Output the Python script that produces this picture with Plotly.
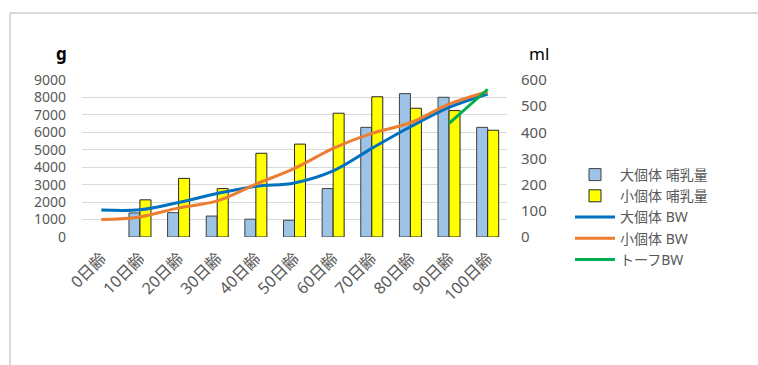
import plotly.graph_objects as go

# Age categories (days)
ages = ["0日齢", "10日齢", "20日齢", "30日齢", "40日齢", "50日齢",
        "60日齢", "70日齢", "80日齢", "90日齢", "100日齢"]

# Milk intake (ml) - right axis
milk_large = [None, 92, 93, 80, 68, 64, 185, 419, 548, 534, 419]
milk_small = [None, 142, 224, 185, 320, 355, 473, 536, 492, 483, 408]

# Body weight (g) - left axis
bw_large = [1550, 1560, 1980, 2490, 2910, 3100, 3790, 5080, 6320, 7430, 8200]
bw_small = [1000, 1150, 1670, 2070, 3030, 3930, 5080, 5940, 6550, 7620, 8330]
bw_tofu = [None, None, None, None, None, None, None, None, None, 6510, 8470]

g_ticks = [0, 1000, 2000, 3000, 4000, 5000, 6000, 7000, 8000, 9000]
ml_ticks = [0, 100, 200, 300, 400, 500, 600]

FONT = "Noto Sans, Noto Sans CJK JP, sans-serif"
GREY = "#595959"

fig = go.Figure()

fig.add_trace(go.Bar(
    x=ages, y=milk_large, name="大個体 哺乳量", yaxis="y",
    marker=dict(color="#9DC3E6", line=dict(color="#404040", width=1)),
))
fig.add_trace(go.Bar(
    x=ages, y=milk_small, name="小個体 哺乳量", yaxis="y",
    marker=dict(color="#FFFF00", line=dict(color="#262626", width=1)),
))
fig.add_trace(go.Scatter(
    x=ages, y=bw_large, name="大個体 BW", yaxis="y2", mode="lines",
    line=dict(color="#0070C0", width=3, shape="spline", smoothing=1.0),
))
fig.add_trace(go.Scatter(
    x=ages, y=bw_small, name="小個体 BW", yaxis="y2", mode="lines",
    line=dict(color="#ED7D31", width=3, shape="spline", smoothing=1.0),
))
fig.add_trace(go.Scatter(
    x=ages, y=bw_tofu, name="トーフBW", yaxis="y2", mode="lines",
    line=dict(color="#00B050", width=3, shape="spline", smoothing=1.0),
))

L, R, T, B = 82, 507, 80, 237
W, H = 758, 365


def px(x):
    return (x - L) / (R - L)


def py(y):
    return (B - y) / (B - T)


fig.update_layout(
    width=W, height=H,
    margin=dict(l=L, r=W - R, t=T, b=H - B),
    paper_bgcolor="white", plot_bgcolor="white",
    font=dict(family=FONT, size=14, color=GREY),
    barmode="group", bargap=0.43, bargroupgap=0,
    showlegend=True,
    legend=dict(
        x=px(570), y=py(159), xanchor="left", yanchor="top",
        font=dict(family=FONT, size=14, color=GREY),
        bgcolor="rgba(0,0,0,0)", tracegroupgap=0, itemwidth=40,
    ),
    xaxis=dict(
        type="category", tickangle=-45, showgrid=False, zeroline=False,
        showline=False, ticks="", ticklabelstandoff=8,
        tickfont=dict(size=16, color=GREY),
    ),
    yaxis=dict(
        side="right", range=[0, 600], tickvals=ml_ticks,
        showgrid=False, zeroline=False, ticks="",
        ticklabelstandoff=13, tickfont=dict(size=15, color=GREY),
    ),
    yaxis2=dict(
        side="left", overlaying="y", range=[0, 9000], tickvals=g_ticks,
        showgrid=True, gridcolor="#D9D9D9", gridwidth=1, zeroline=False,
        ticks="", ticklabelstandoff=15, tickfont=dict(size=14, color=GREY),
    ),
    annotations=[
        dict(text="<b>g</b>", x=px(61), y=py(53), xref="paper", yref="paper",
             xanchor="center", yanchor="middle", showarrow=False,
             font=dict(size=17, color="black", family=FONT)),
        dict(text="ml", x=px(539), y=py(53), xref="paper", yref="paper",
             xanchor="center", yanchor="middle", showarrow=False,
             font=dict(size=17, color="black", family=FONT)),
    ],
    shapes=[
        dict(type="line", xref="paper", yref="paper", x0=px(10), x1=px(760),
             y0=py(13), y1=py(13), line=dict(color="#D9D9D9", width=2)),
        dict(type="line", xref="paper", yref="paper", x0=px(10), x1=px(10),
             y0=py(13), y1=py(370), line=dict(color="#D9D9D9", width=2)),
    ],
)

fig.write_html("out.html")
